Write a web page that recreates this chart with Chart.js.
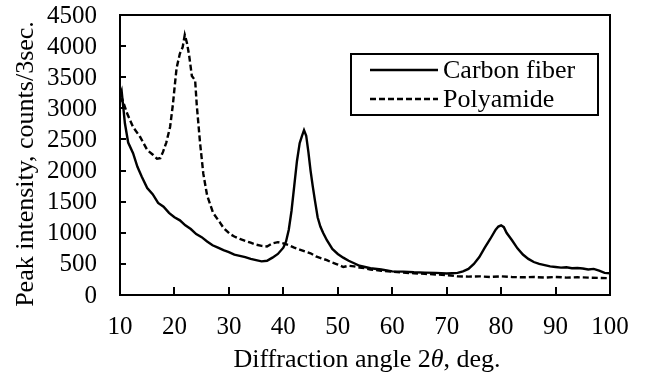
<!DOCTYPE html>
<html>
<head>
<meta charset="utf-8">
<script src="https://cdn.jsdelivr.net/npm/chart.js@4.4.1/dist/chart.umd.min.js"></script>
<style>
  html, body { margin: 0; padding: 0; background: #fff; }
  #wrap { width: 646px; height: 378px; }
</style>
</head>
<body>
<div id="wrap"><canvas id="xrd"></canvas></div>
<script>
// diffraction angle 2theta (deg) and counts / 3 sec
const cfAngle = [10, 10.3, 10.9, 11.5, 12.4, 13.2, 14, 15, 16, 17, 18, 19, 20, 21, 22, 23, 24, 25, 26, 27, 28, 29, 30, 31, 32, 33, 34, 35, 36, 37, 38, 39, 40, 40.5, 41, 41.5, 42, 42.5, 43, 43.4, 43.8, 44.2, 44.6, 45, 45.4, 45.8, 46.3, 46.8, 47.3, 48, 49, 50, 51, 52, 53, 54, 55, 56, 58, 60, 62, 64, 66, 68, 70, 71, 72, 73, 74, 75, 76, 77, 78, 79, 79.5, 80, 80.5, 81, 82, 83, 84, 85, 86, 87, 88, 89, 90, 91, 92, 93, 94, 95, 96, 97, 98, 99, 100];
const cfCounts = [3200, 3280, 2760, 2450, 2280, 2060, 1900, 1720, 1620, 1480, 1420, 1320, 1250, 1200, 1120, 1060, 980, 930, 860, 800, 760, 720, 690, 650, 630, 610, 580, 560, 540, 550, 600, 660, 760, 860, 1050, 1350, 1750, 2150, 2440, 2550, 2650, 2560, 2300, 2000, 1750, 1520, 1250, 1100, 1000, 880, 740, 660, 600, 550, 510, 470, 450, 430, 410, 380, 375, 365, 360, 355, 345, 350, 355, 380, 420, 500, 610, 760, 900, 1050, 1100, 1120, 1090, 1000, 880, 750, 650, 580, 530, 500, 480, 460, 450, 440, 445, 430, 435, 425, 410, 420, 390, 355, 350];

const paAngle = [10, 10.4, 11.3, 12.4, 13.7, 15, 16.1, 16.8, 17.4, 17.9, 18.5, 19.2, 19.7, 20.1, 20.4, 21, 21.5, 21.9, 22.3, 22.7, 23.2, 23.8, 24.1, 24.7, 25.3, 26, 27.1, 28.4, 29, 30.2, 31, 32, 33, 34, 35, 36, 37, 38, 39, 40, 41, 42, 43, 44, 45, 46, 47, 48, 49, 50, 51, 52, 53, 54, 55, 56, 58, 60, 62, 64, 66, 68, 70, 72, 74, 76, 78, 80, 82, 84, 86, 88, 90, 92, 94, 96, 98, 100];
const paCounts = [3100, 3150, 2920, 2700, 2540, 2330, 2250, 2190, 2200, 2300, 2450, 2700, 3050, 3400, 3650, 3880, 3980, 4180, 4050, 3850, 3520, 3450, 3050, 2450, 1950, 1600, 1320, 1160, 1080, 980, 940, 900, 870, 840, 810, 790, 780, 830, 850, 830, 800, 760, 730, 700, 670, 620, 590, 560, 520, 490, 450, 470, 460, 440, 430, 410, 390, 375, 360, 350, 340, 330, 320, 300, 295, 300, 290, 300, 290, 285, 290, 280, 290, 280, 285, 280, 275, 270];

const seriesNames = ['Carbon fiber', 'Polyamide'];
const xTitle = ['Diffraction angle 2', '\u03b8', ', deg.'];
const yTitle = 'Peak intensity, counts/3sec.';

const serif = '"Liberation Serif", "Times New Roman", serif';

function toPoints(xs, ys) {
    return xs.map(function(x, i) { return { x: x, y: ys[i] }; });
}

// frame, inward ticks, y tick labels, axis titles and the boxed legend
const decor = {
    id: 'decor',
    afterDraw(chart) {
        const ctx = chart.ctx;
        const a = chart.chartArea;
        const xs = chart.scales.x;
        const ys = chart.scales.y;
        ctx.save();
        ctx.strokeStyle = '#000';
        ctx.lineWidth = 2;
        ctx.strokeRect(a.left, a.top, a.right - a.left, a.bottom - a.top);

        ctx.beginPath();
        xs.ticks.forEach(function(t) {
            const px = Math.round(xs.getPixelForValue(t.value));
            ctx.moveTo(px, a.bottom);
            ctx.lineTo(px, a.bottom - 8);
        });
        ys.ticks.forEach(function(t) {
            const py = Math.round(ys.getPixelForValue(t.value));
            ctx.moveTo(a.left, py);
            ctx.lineTo(a.left + 6, py);
        });
        ctx.stroke();

        // y tick labels (every 500, none skipped)
        ctx.fillStyle = '#000';
        ctx.font = '25px ' + serif;
        ctx.textAlign = 'right';
        ctx.textBaseline = 'middle';
        ys.ticks.forEach(function(t) {
            ctx.fillText(String(t.value), a.left - 23, ys.getPixelForValue(t.value) + 1);
        });

        // x title with italic theta
        ctx.textBaseline = 'alphabetic';
        ctx.textAlign = 'left';
        const up = '26px ' + serif, it = 'italic 26px ' + serif;
        ctx.font = up;
        const w0 = ctx.measureText(xTitle[0]).width;
        const w2 = ctx.measureText(xTitle[2]).width;
        ctx.font = it;
        const w1 = ctx.measureText(xTitle[1]).width;
        let tx = (a.left + a.right) / 2 + 2 - (w0 + w1 + w2) / 2;
        const ty = 367;
        ctx.font = up; ctx.fillText(xTitle[0], tx, ty); tx += w0;
        ctx.font = it; ctx.fillText(xTitle[1], tx, ty); tx += w1;
        ctx.font = up; ctx.fillText(xTitle[2], tx, ty);

        // y title
        ctx.save();
        ctx.translate(33, 164);
        ctx.rotate(-Math.PI / 2);
        ctx.textAlign = 'center';
        ctx.font = up;
        ctx.fillText(yTitle, 0, 0);
        ctx.restore();

        // legend
        ctx.lineWidth = 2;
        ctx.strokeRect(351, 54, 247, 61);
        chart.data.datasets.forEach(function(ds, i) {
            const ly = 70 + i * 29;
            ctx.save();
            ctx.lineWidth = ds.borderWidth;
            ctx.setLineDash(ds.borderDash || []);
            ctx.beginPath();
            ctx.moveTo(370, ly);
            ctx.lineTo(438, ly);
            ctx.stroke();
            ctx.restore();
            ctx.font = up;
            ctx.textBaseline = 'middle';
            ctx.fillText(ds.label, 443, ly + 1);
        });
        ctx.restore();
    }
};

new Chart(document.getElementById('xrd'), {
    type: 'line',
    data: {
        datasets: [
            {
                label: seriesNames[0],
                data: toPoints(cfAngle, cfCounts),
                borderColor: '#000',
                borderWidth: 2.4,
                pointRadius: 0,
                tension: 0,
            },
            {
                label: seriesNames[1],
                data: toPoints(paAngle, paCounts),
                borderColor: '#000',
                borderWidth: 2.4,
                borderDash: [6, 3],
                pointRadius: 0,
                tension: 0,
            },
        ]
    },
    options: {
        responsive: true,
        maintainAspectRatio: false,
        animation: false,
        layout: { padding: { top: 15, right: 36, left: 0, bottom: 0 } },
        scales: {
            x: {
                type: 'linear',
                min: 10,
                max: 100,
                afterFit: function(s) { s.height = 83; },
                grid: { display: false, drawTicks: false },
                border: { color: '#000', width: 2 },
                ticks: {
                    stepSize: 10,
                    autoSkip: false,
                    maxRotation: 0,
                    padding: 17,
                    color: '#000',
                    font: { family: serif, size: 25 },
                }
            },
            y: {
                min: 0,
                max: 4500,
                afterFit: function(s) { s.width = 120; },
                grid: { display: false, drawTicks: false },
                border: { color: '#000', width: 2 },
                ticks: {
                    stepSize: 500,
                    display: false,
                }
            },
        },
        plugins: {
            legend: { display: false },
            tooltip: { enabled: false },
        },
    },
    plugins: [decor]
});
</script>
</body>
</html>
